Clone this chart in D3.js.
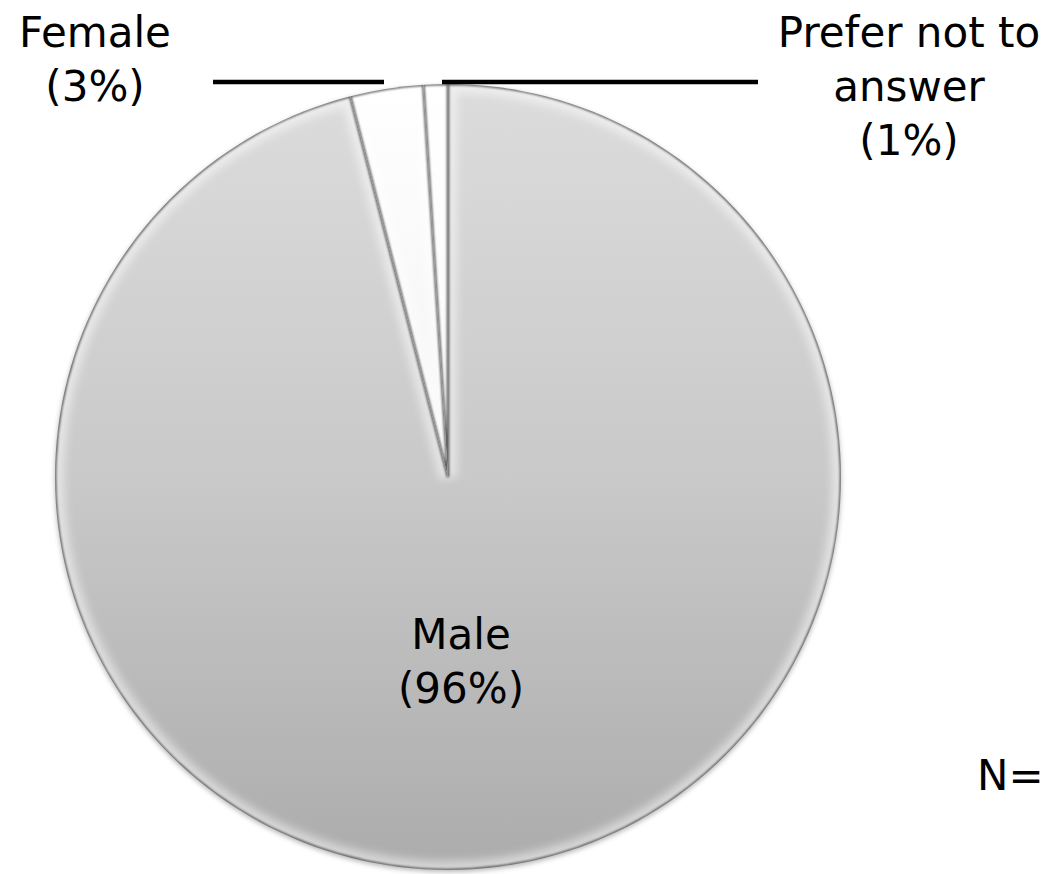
<!DOCTYPE html>
<html>
<head>
<meta charset="utf-8">
<script src="https://cdn.jsdelivr.net/npm/d3@7"></script>
<style>
  html, body { margin: 0; padding: 0; background: #ffffff; }
  svg { display: block; }
  text { font-family: "DejaVu Sans", "Liberation Sans", sans-serif; fill: #000; }
</style>
</head>
<body>
<svg id="chart" width="1055" height="874"></svg>
<script>
// Gender split of respondents
const categories = ["Male", "Female", "Prefer not to answer"];
const shares = [96, 3, 1];
const labelLines = [["Male", "(96%)"], ["Female", "(3%)"], ["Prefer not to", "answer", "(1%)"]];
const footnote = "N=";

const W = 1055, H = 874;
const cx = 448, cy = 477, R = 393;
const fontSize = 42, lineGap = 54;

const svg = d3.select("#chart");
const defs = svg.append("defs");

// Vertical shading of the large slice (coordinates local to the pie group)
const grad = defs.append("linearGradient")
  .attr("id", "gMale").attr("gradientUnits", "userSpaceOnUse")
  .attr("x1", 0).attr("y1", -R).attr("x2", 0).attr("y2", R);
grad.append("stop").attr("offset", "0%").attr("stop-color", "#dcdcdc");
grad.append("stop").attr("offset", "50%").attr("stop-color", "#c9c9c9");
grad.append("stop").attr("offset", "100%").attr("stop-color", "#acacac");

const gradW = defs.append("linearGradient")
  .attr("id", "gWhite").attr("gradientUnits", "userSpaceOnUse")
  .attr("x1", 0).attr("y1", -R).attr("x2", 0).attr("y2", 0);
gradW.append("stop").attr("offset", "0%").attr("stop-color", "#ffffff");
gradW.append("stop").attr("offset", "100%").attr("stop-color", "#f2f2f2");

const fills = ["url(#gMale)", "url(#gWhite)", "url(#gWhite)"];

defs.append("filter").attr("id", "soft").attr("x", "-10%").attr("y", "-10%").attr("width", "120%").attr("height", "120%")
  .append("feGaussianBlur").attr("stdDeviation", 0.9);
defs.append("filter").attr("id", "glow").attr("x", "-10%").attr("y", "-10%").attr("width", "120%").attr("height", "120%")
  .append("feGaussianBlur").attr("stdDeviation", 4);
defs.append("filter").attr("id", "shadow").attr("x", "-10%").attr("y", "-10%").attr("width", "120%").attr("height", "120%")
  .append("feGaussianBlur").attr("stdDeviation", 2.5);

const data = categories.map((c, i) => ({ name: c, value: shares[i], lines: labelLines[i], fill: fills[i] }));

const pie = d3.pie().sort(null).value(d => d.value);
const arc = d3.arc().innerRadius(0).outerRadius(R);
const arcs = pie(data);

const g = svg.append("g").attr("transform", `translate(${cx},${cy})`);

// soft drop shadow beneath the disc
g.append("circle").attr("cx", 0).attr("cy", 2).attr("r", R)
  .attr("fill", "#6e6e6e").attr("opacity", 0.5).attr("filter", "url(#shadow)");

arcs.forEach((d, i) => {
  const id = "clip" + i;
  defs.append("clipPath").attr("id", id)
    .append("path").attr("d", arc(d)).attr("transform", `translate(${cx},${cy})`);
  g.append("path").attr("d", arc(d)).attr("fill", d.data.fill);
  // bevel: bright band just inside the edges, then a dark crisp rim
  const inner = svg.append("g").attr("clip-path", `url(#${id})`)
    .append("g").attr("transform", `translate(${cx},${cy})`);
  inner.append("path").attr("d", arc(d)).attr("fill", "none")
    .attr("stroke", "#ffffff").attr("stroke-opacity", 0.5).attr("stroke-width", 18)
    .attr("filter", "url(#glow)");
  inner.append("path").attr("d", arc(d)).attr("fill", "none")
    .attr("stroke", "#4e4e4e").attr("stroke-width", 2.6).attr("stroke-opacity", 0.9)
    .attr("filter", "url(#soft)");
});

// leader lines for the two thin slices
const leaders = [[213, 384], [442, 758]];
svg.selectAll("line.leader").data(leaders).enter().append("line")
  .attr("class", "leader")
  .attr("x1", d => d[0]).attr("x2", d => d[1])
  .attr("y1", 82).attr("y2", 82)
  .attr("stroke", "#000").attr("stroke-width", 4.5);

// slice labels
const labelPos = [[461, 649], [95, 47], [909, 47]];
data.forEach((d, i) => {
  const t = svg.append("text")
    .attr("text-anchor", "middle")
    .attr("font-size", fontSize);
  d.lines.forEach((ln, k) => {
    t.append("tspan").attr("x", labelPos[i][0]).attr("y", labelPos[i][1] + k * lineGap).text(ln);
  });
});

svg.append("text").attr("x", 977).attr("y", 790)
  .attr("font-size", fontSize).text(footnote);
</script>
</body>
</html>
